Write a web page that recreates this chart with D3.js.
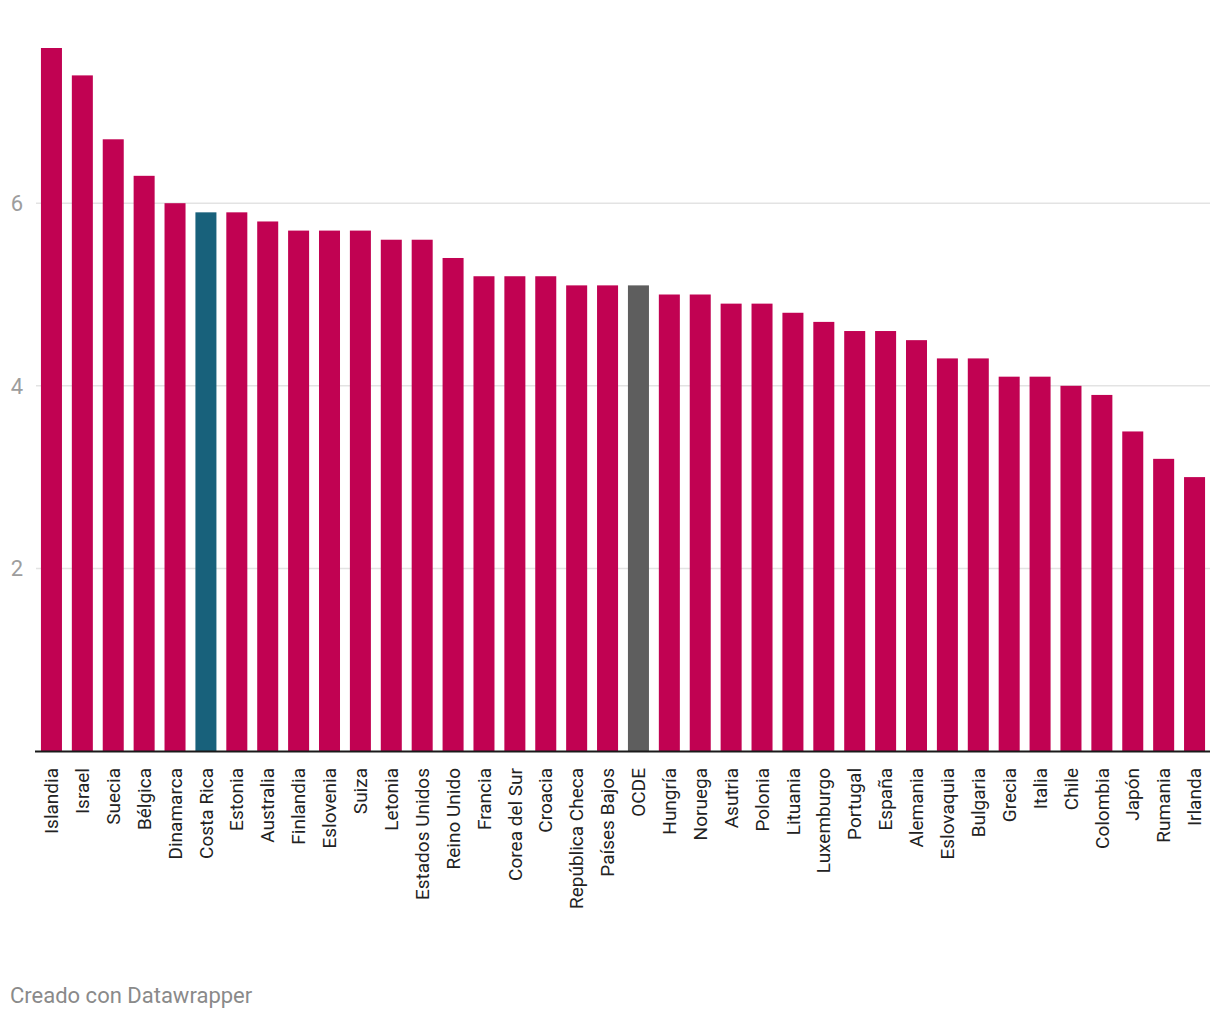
<!DOCTYPE html>
<html><head><meta charset="utf-8">
<script src="https://cdn.jsdelivr.net/npm/d3@7"></script>
<style>body{margin:0;background:#fff;font-family:Roboto,sans-serif}</style>
</head><body><svg id="c" width="1220" height="1020"></svg>
<script>
const categories = ["Islandia","Israel","Suecia","Bélgica","Dinamarca","Costa Rica","Estonia","Australia","Finlandia","Eslovenia","Suiza","Letonia","Estados Unidos","Reino Unido","Francia","Corea del Sur","Croacia","República Checa","Países Bajos","OCDE","Hungría","Noruega","Asutria","Polonia","Lituania","Luxemburgo","Portugal","España","Alemania","Eslovaquia","Bulgaria","Grecia","Italia","Chile","Colombia","Japón","Rumania","Irlanda"];
const values = [7.7,7.4,6.7,6.3,6.0,5.9,5.9,5.8,5.7,5.7,5.7,5.6,5.6,5.4,5.2,5.2,5.2,5.1,5.1,5.1,5.0,5.0,4.9,4.9,4.8,4.7,4.6,4.6,4.5,4.3,4.3,4.1,4.1,4.0,3.9,3.5,3.2,3.0];
const yTicks = [2,4,6];
const highlight = {"Costa Rica":"#18617b","OCDE":"#5e5e5e"};
const baseColor = "#c10252";

const svg = d3.select("#c");
const x = d3.scaleBand().domain(categories).range([36,1210]).paddingInner(0.32).paddingOuter(0.16);
const y = d3.scaleLinear().domain([0,7.7]).range([751,48]);

const grid = svg.append("g");
grid.selectAll("line").data(yTicks).join("line")
  .attr("x1",36).attr("x2",1210).attr("y1",d=>y(d)).attr("y2",d=>y(d))
  .attr("stroke","#e3e3e3").attr("stroke-width",1.5);
grid.selectAll("text").data(yTicks).join("text")
  .attr("x",23).attr("y",d=>y(d)).attr("dy","0.35em").attr("text-anchor","end")
  .attr("fill","#9d9d9d").attr("font-size",22).text(d=>d);

svg.append("g").selectAll("rect").data(categories).join("rect")
  .attr("x",d=>x(d)).attr("width",x.bandwidth())
  .attr("y",(d,i)=>y(values[i])).attr("height",(d,i)=>y(0)-y(values[i]))
  .attr("fill",d=>highlight[d]||baseColor);

svg.append("line").attr("x1",35).attr("x2",1210).attr("y1",751.5).attr("y2",751.5)
  .attr("stroke","#1a1a1a").attr("stroke-width",2);

svg.append("g").selectAll("text").data(categories).join("text")
  .attr("transform",d=>`translate(${x(d)+x.bandwidth()/2},768) rotate(-90)`)
  .attr("text-anchor","end").attr("dy","0.35em")
  .attr("fill","#222").attr("font-size",19).text(d=>d);

svg.append("text").attr("x",10).attr("y",1003).attr("fill","#8a8a8a")
  .attr("font-size",22).text("Creado con Datawrapper");
</script></body></html>
